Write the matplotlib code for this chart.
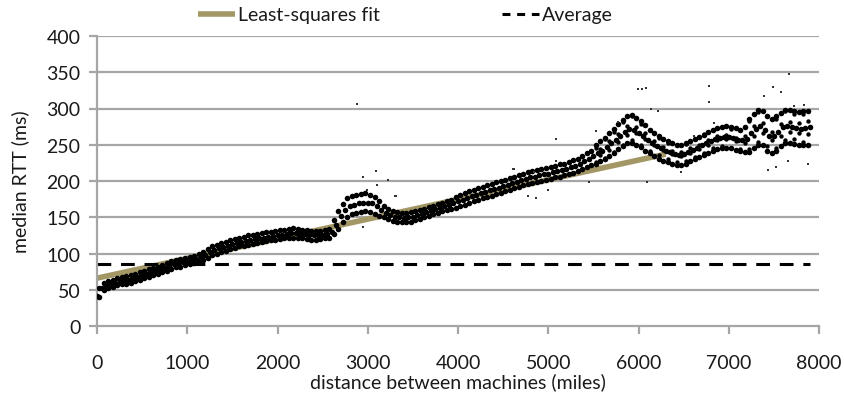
import numpy as np
import matplotlib
matplotlib.use("Agg")
import matplotlib.pyplot as plt
from matplotlib.lines import Line2D

plt.rcParams['font.family'] = ['Lato', 'DejaVu Sans']

# ---------------- data ----------------
# median RTT along the curve, every 50 miles from 0 to 7900
dist_mid = np.arange(0, 7901, 50)
rtt_mid = [42, 52, 56, 58, 60, 62, 63, 64, 66, 68,
           70, 72, 74, 76, 78, 80, 83, 85, 87, 88,
           89, 91, 93, 95, 98, 102, 105, 107, 109, 111,
           113, 115, 116, 117, 119, 120, 121, 122, 123, 124,
           125, 126, 127, 128, 128, 127, 127, 126, 125, 125,
           126, 127, 130, 140, 152, 160, 165, 167, 169, 170,
           170, 169, 165, 160, 156, 153, 151, 150, 149, 150,
           151, 153, 155, 157, 159, 161, 163, 165, 167, 169,
           172, 174, 177, 179, 181, 183, 185, 187, 189, 191,
           193, 195, 197, 199, 201, 203, 205, 206, 208, 209,
           210, 212, 214, 215, 217, 219, 221, 224, 227, 230,
           234, 238, 242, 247, 252, 257, 262, 268, 272, 270,
           266, 262, 257, 252, 248, 245, 242, 240, 237, 236,
           237, 240, 243, 246, 249, 252, 255, 258, 260, 261,
           261, 259, 257, 256, 258, 266, 272, 276, 270, 262,
           262, 268, 274, 276, 275, 273, 272, 273, 274]

# upper and lower edges of the point cloud, every 50 miles from 25 to 7875
dist_edge = np.arange(25, 7876, 50)
rtt_hi = [53, 59, 62, 64, 66, 68, 69, 70, 72, 74,
          76, 79, 80, 82, 84, 87, 89, 91, 93, 94,
          95, 97, 99, 102, 106, 110, 112, 114, 116, 118,
          120, 122, 123, 125, 126, 127, 128, 130, 130, 131,
          132, 133, 134, 135, 134, 133, 132, 131, 131, 131,
          132, 134, 146, 158, 168, 176, 180, 181, 182, 183,
          181, 178, 173, 166, 162, 159, 157, 156, 156, 157,
          158, 160, 162, 164, 166, 168, 170, 172, 174, 178,
          181, 184, 186, 188, 190, 192, 194, 196, 198, 200,
          202, 204, 206, 208, 210, 212, 214, 215, 217, 218,
          219, 221, 223, 224, 226, 229, 231, 235, 238, 242,
          250, 255, 260, 266, 272, 278, 284, 290, 291, 287,
          283, 277, 270, 266, 262, 258, 255, 252, 250, 250,
          252, 255, 258, 261, 264, 268, 270, 273, 275, 276,
          275, 273, 271, 274, 285, 292, 298, 296, 290, 286,
          289, 294, 298, 298, 297, 295, 296, 297]
rtt_lo = [40, 49, 52, 54, 56, 58, 58, 60, 62, 64,
          66, 68, 70, 72, 74, 76, 79, 81, 82, 84,
          85, 87, 89, 91, 94, 98, 100, 102, 104, 106,
          108, 110, 110, 112, 113, 114, 116, 117, 118, 119,
          120, 121, 122, 122, 121, 121, 120, 119, 119, 120,
          121, 122, 127, 134, 144, 151, 155, 156, 157, 158,
          157, 155, 152, 150, 147, 145, 144, 143, 143, 144,
          146, 148, 150, 152, 154, 156, 158, 160, 162, 163,
          165, 167, 170, 172, 174, 176, 178, 180, 182, 184,
          186, 188, 190, 192, 194, 196, 197, 199, 200, 201,
          203, 205, 206, 208, 210, 211, 214, 216, 219, 222,
          224, 227, 230, 234, 239, 244, 248, 252, 253, 250,
          247, 242, 238, 234, 231, 228, 226, 224, 222, 222,
          224, 227, 230, 233, 236, 239, 241, 244, 246, 246,
          245, 243, 242, 240, 240, 246, 250, 250, 242, 238,
          242, 248, 252, 253, 251, 250, 249, 250]

# extra scattered points in the noisy part of the cloud, every 50 miles from 5525 to 7875
dist_noisy = np.arange(5525, 7876, 50)
rtt_noisy_hi = [246, 244, 258, 255, 268, 265, 281, 276, 290, 275,
                279, 266, 270, 255, 259, 247, 253, 241, 250, 240,
                251, 246, 258, 249, 265, 256, 270, 262, 275, 263,
                272, 260, 270, 262, 283, 276, 295, 280, 290, 268,
                285, 278, 296, 282, 293, 280, 292, 283]
rtt_noisy_lo = [226, 236, 232, 243, 240, 254, 250, 264, 256, 266,
                250, 258, 242, 250, 236, 243, 230, 237, 226, 234,
                228, 238, 233, 244, 238, 250, 245, 256, 248, 258,
                246, 255, 244, 252, 244, 262, 254, 266, 248, 256,
                246, 262, 256, 268, 258, 266, 254, 265]

# isolated outlier points
out_dist = [2886, 2952, 3086, 3219, 3108, 2997, 3307, 2952, 3318, 4606,
            4840, 4772, 4994, 5083, 5083, 5993, 6038, 6082, 5527, 6215,
            6138, 4617, 4861, 5449, 6093, 5771, 6782, 6782, 7669, 7492,
            7580, 7392, 6471, 7436, 7525, 7880, 7658, 6615, 6837, 7836, 7725]
out_rtt = [306, 205, 214, 202, 194, 187, 180, 137, 180, 216,
           213, 180, 187, 258, 228, 327, 327, 328, 269, 296,
           300, 217, 176, 199, 199, 282, 331, 309, 348, 330,
           323, 317, 213, 215, 220, 224, 227, 262, 280, 305, 303]

# least-squares fit (visible part) and average
fit_dist = [0, 6300]
fit_rtt = [66, 237]
avg_dist = [0, 7900]
avg_rtt = [86, 86]

x_ticks = [0, 1000, 2000, 3000, 4000, 5000, 6000, 7000, 8000]
y_ticks = [0, 50, 100, 150, 200, 250, 300, 350, 400]

# ---------------- figure ----------------
W, H = 844, 402
fig = plt.figure(figsize=(W / 100, H / 100), dpi=100)
ax = fig.add_axes([97 / W, 1 - 327 / H, (819 - 97) / W, (327 - 37) / H])

grid_c = '#a6a6a6'
text_c = '#1a1a1a'
fs = 14

for yv in y_ticks[1:]:
    ax.axhline(yv, color=grid_c, lw=1.6, zorder=0)

fit_c = '#a39766'
ax.plot(fit_dist, fit_rtt, color=fit_c, lw=4.0, solid_capstyle='butt', zorder=2)
ax.plot(avg_dist, avg_rtt, color='black', lw=2.2, dashes=(4.5, 3.2), zorder=2)

pts = dict(marker='o', s=16, linewidths=0, color='black', zorder=3)
ax.scatter(dist_mid, rtt_mid, **pts)
ax.scatter(dist_edge, rtt_hi, **pts)
ax.scatter(dist_edge, rtt_lo, **pts)
ax.scatter(dist_noisy, rtt_noisy_hi, marker='o', s=10, linewidths=0, color='black', zorder=3)
ax.scatter(dist_noisy, rtt_noisy_lo, marker='o', s=10, linewidths=0, color='black', zorder=3)
ax.scatter(out_dist, out_rtt, marker='s', s=4, linewidths=0, color='#333333', zorder=3)

ax.set_xlim(0, 8000)
ax.set_ylim(0, 400)
ax.set_xticks(x_ticks)
ax.set_yticks(y_ticks)
ax.tick_params(axis='both', colors=grid_c, labelcolor=text_c, labelsize=fs,
               length=6, width=1.6, direction='out')
ax.tick_params(axis='x', pad=14)
ax.tick_params(axis='y', pad=6)
for s in ['top', 'right']:
    ax.spines[s].set_visible(False)
for s in ['left', 'bottom']:
    ax.spines[s].set_color(grid_c)
    ax.spines[s].set_linewidth(1.6)

ax.set_xlabel('distance between machines (miles)', fontsize=fs, color=text_c, labelpad=1)
ax.set_ylabel('median RTT (ms)', fontsize=fs, color=text_c, labelpad=12)

handles = [Line2D([], [], color=fit_c, lw=4.0, solid_capstyle='butt'),
           Line2D([], [], color='black', lw=2.2, dashes=(2.6, 2.2))]
fig.legend(handles, ['Least-squares fit', 'Average'], ncol=2, frameon=False,
           loc='center left', bbox_to_anchor=(198 / W, 1 - 16 / H),
           fontsize=fs, handlelength=1.9, handletextpad=0.15, columnspacing=6.3,
           labelcolor=text_c, borderaxespad=0, borderpad=0)

fig.savefig('out.png', dpi=100)
